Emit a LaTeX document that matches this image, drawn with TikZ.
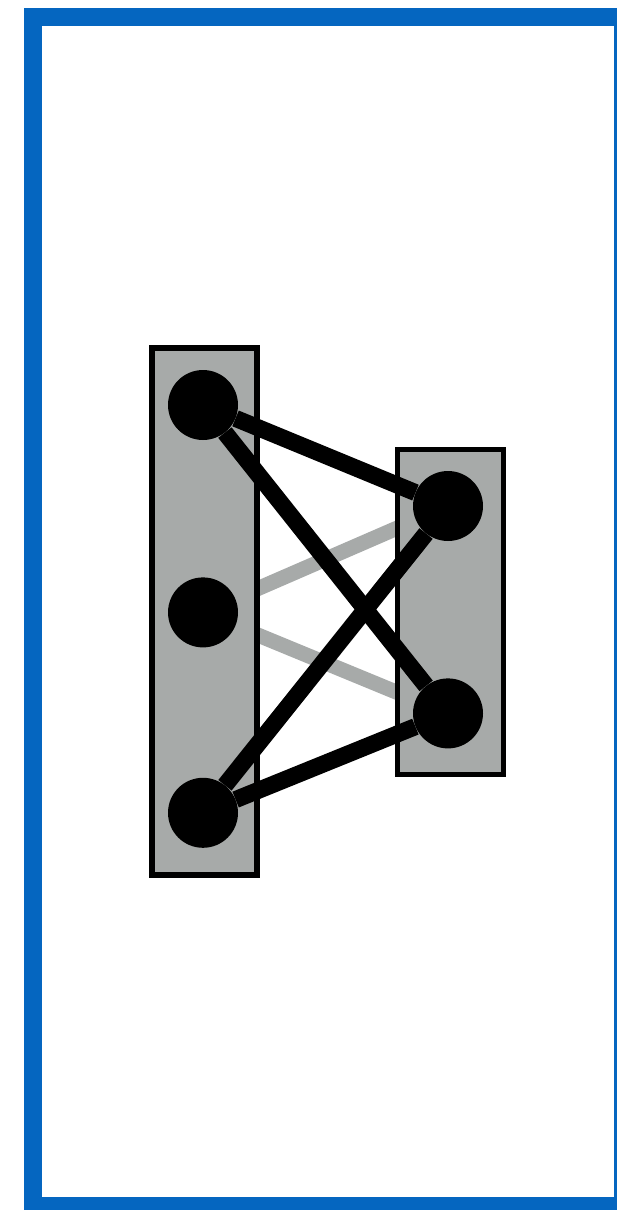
\documentclass[tikz,border=0pt]{standalone}
\usetikzlibrary{positioning}
\definecolor{frameblue}{HTML}{0566C0}
\definecolor{boxgray}{HTML}{A7AAA9}
\pgfdeclarelayer{back}
\pgfdeclarelayer{front}
\pgfsetlayers{back,main,front}

\begin{document}
\begin{tikzpicture}[x=1pt,y=-1pt,
    group/.style={rectangle,draw=black,line width=5.5pt,fill=boxgray,inner sep=0pt},
    vert/.style={circle,fill=black,minimum size=70pt,inner sep=0pt},
    link/.style={black,line width=17pt},
    weak/.style={boxgray,line width=15pt}]

  \useasboundingbox (0,0) rectangle (616,1210);
  \draw[frameblue,line width=18pt] (32.5,16.5) rectangle (623,1206);

  % the two groups
  \node[group,minimum width=105pt,minimum height=527pt] (left) at (204.5,611.5) {};
  \node[group,minimum width=106pt,minimum height=325pt] (right) at (450.5,612) {};

  \begin{pgfonlayer}{front}
    \node[vert] (a1) at (203,405) {};
    \node[vert,below=137pt of a1] (a2) {};
    \node[vert,below=130pt of a2] (a3) {};
    \node[vert] (b1) at (448,506) {};
    \node[vert,below=137pt of b1] (b2) {};
  \end{pgfonlayer}

  \draw[link] (a1) -- (b1);
  \draw[link] (a1) -- (b2);
  \draw[link] (a3) -- (b1);
  \draw[link] (a3) -- (b2);

  \begin{pgfonlayer}{back}
    \draw[weak] (a2) -- (b1);
    \draw[weak] (a2) -- (b2);
  \end{pgfonlayer}
\end{tikzpicture}
\end{document}
